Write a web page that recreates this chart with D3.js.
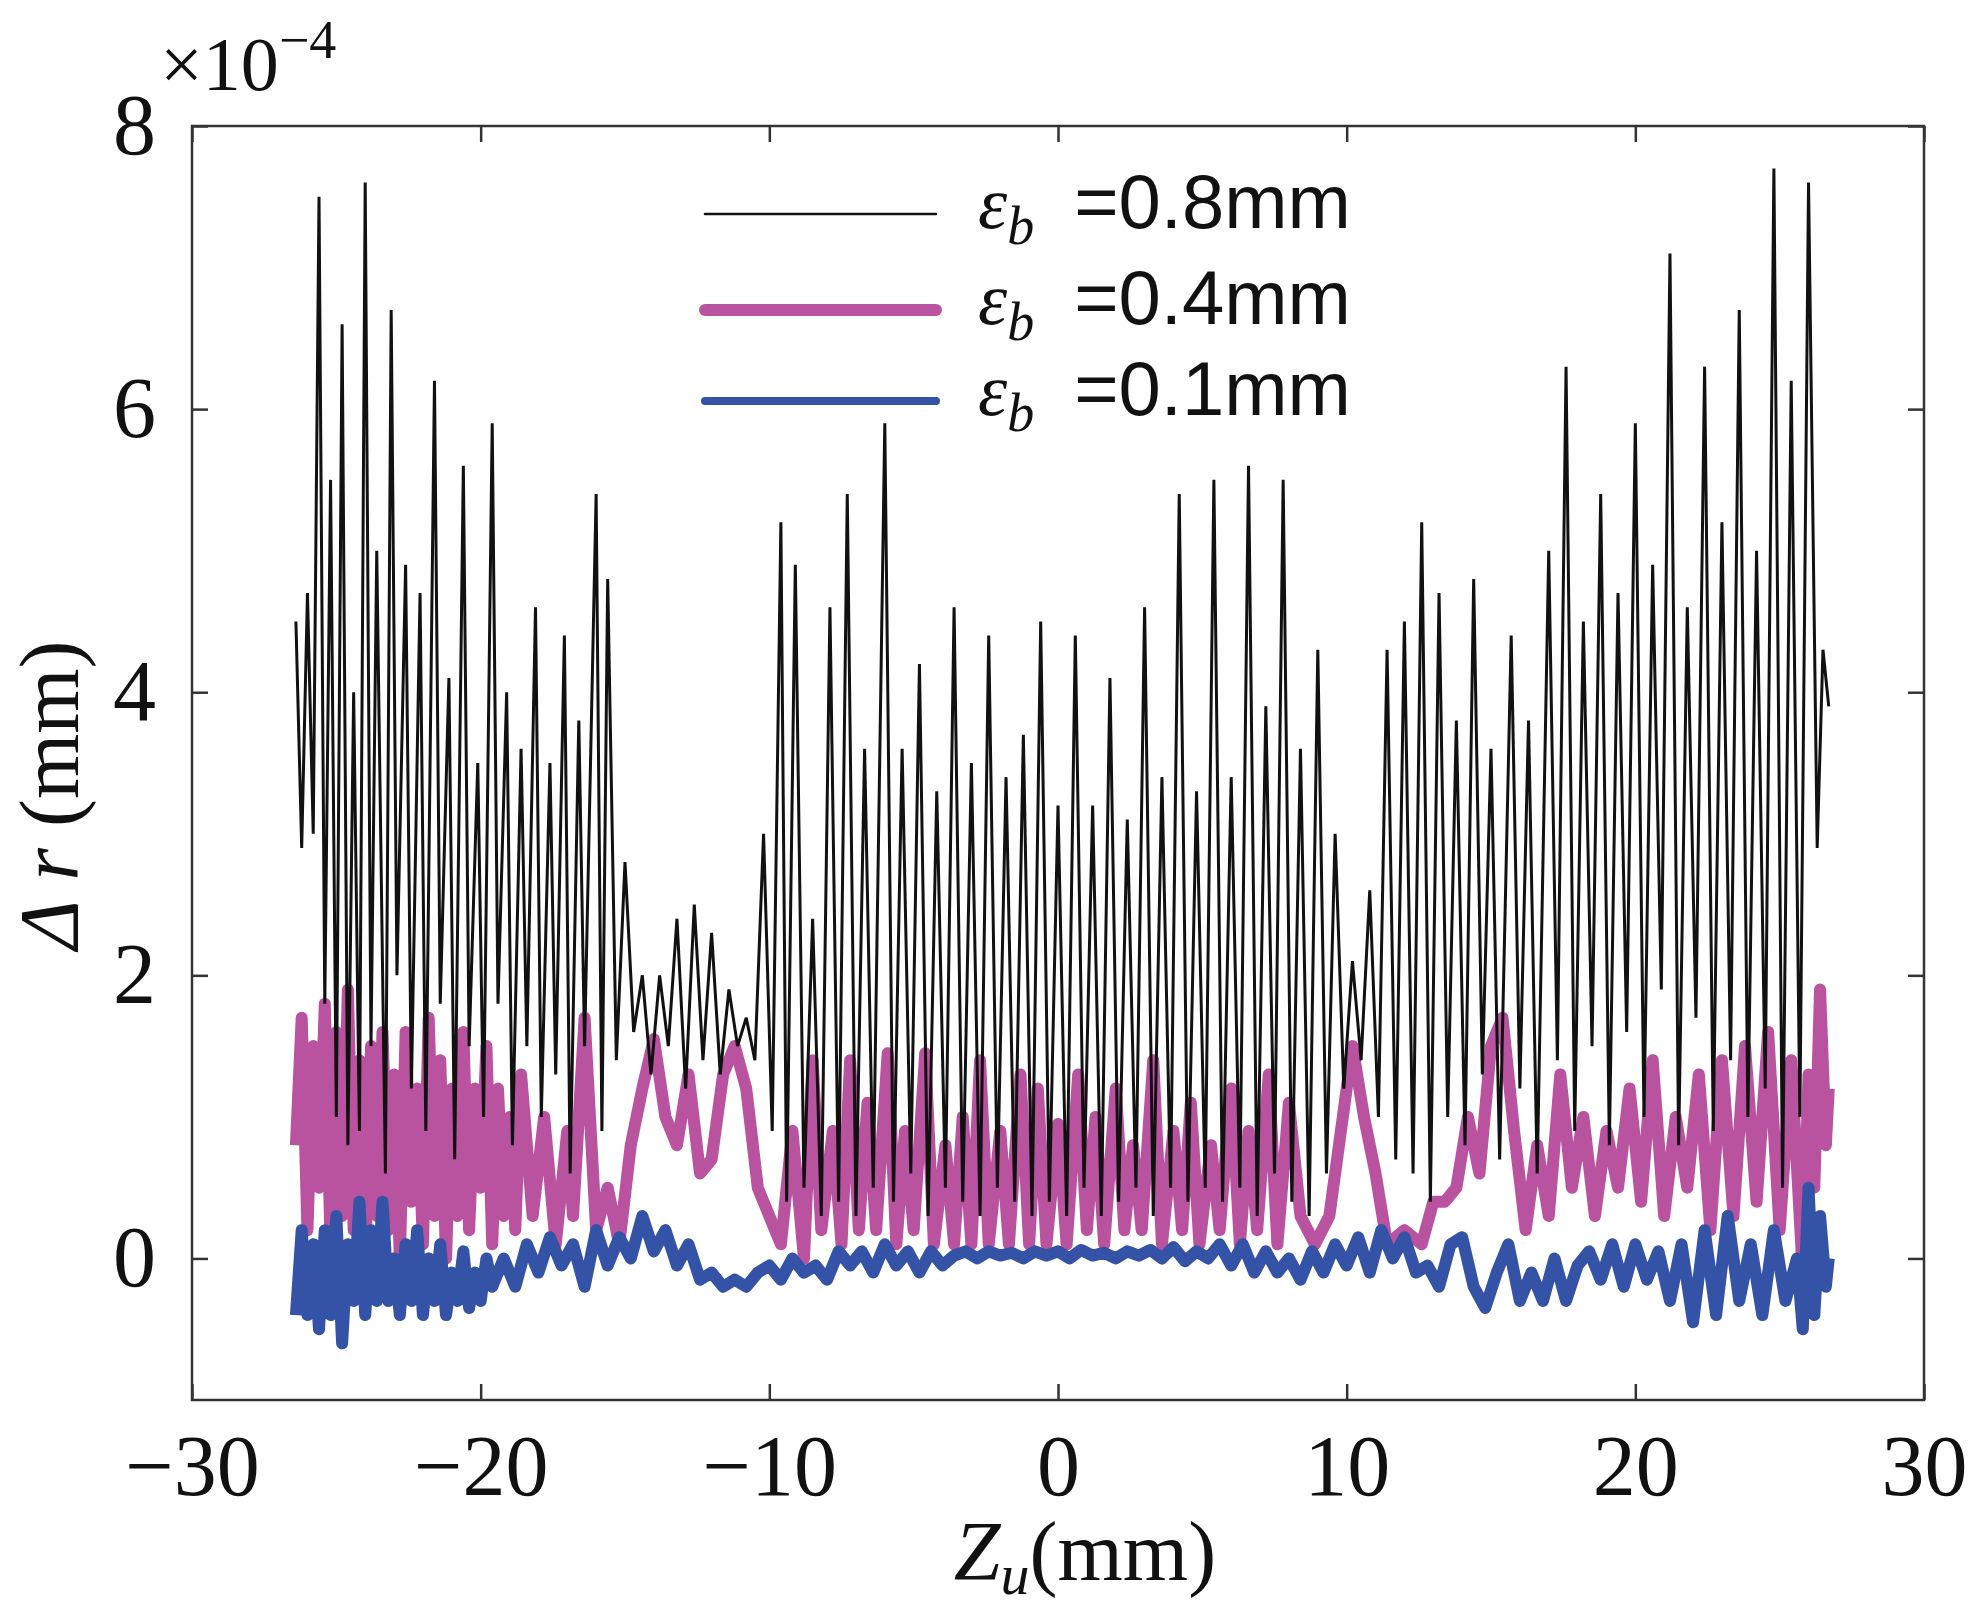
<!DOCTYPE html>
<html>
<head>
<meta charset="utf-8">
<script src="https://cdn.jsdelivr.net/npm/d3@7"></script>
<style>
  body { margin: 0; background: #fff; }
</style>
</head>
<body>
<div id="chart"></div>
<script>
// x ticks and y ticks (y in units of 1e-4 mm)
const xTicks = [-30, -20, -10, 0, 10, 20, 30];
const yTicks = [0, 2, 4, 6, 8];

// eps_b = 0.8mm  [Zu, dr]
const black = [
  [-26.4,4.5],[-26.2,2.9],[-26.0,4.7],[-25.8,3.0],[-25.6,7.5],[-25.4,1.8],[-25.2,5.5],[-25.0,1.0],[-24.8,6.6],[-24.6,0.8],
  [-24.4,4.0],[-24.2,0.9],[-24.0,7.6],[-23.8,1.5],[-23.6,5.0],[-23.3,0.6],[-23.1,6.7],[-22.9,2.0],[-22.6,4.9],[-22.4,1.2],
  [-22.1,4.7],[-21.9,0.9],[-21.6,6.2],[-21.4,1.8],[-21.1,4.1],[-20.9,0.7],[-20.6,5.6],[-20.4,1.5],[-20.1,3.5],[-19.9,1.0],
  [-19.6,5.9],[-19.4,1.8],[-19.1,4.0],[-18.9,0.8],[-18.6,3.6],[-18.4,1.5],[-18.1,4.6],[-17.9,1.0],[-17.6,3.5],[-17.4,1.3],
  [-17.1,4.4],[-16.9,0.6],[-16.6,3.8],[-16.4,1.5],[-16.0,5.4],[-15.8,0.9],[-15.6,4.8],[-15.3,1.4],[-15.0,2.8],[-14.7,1.6],
  [-14.4,2.0],[-14.1,1.3],[-13.8,2.0],[-13.5,1.5],[-13.2,2.4],[-12.9,1.2],[-12.6,2.5],[-12.3,1.4],[-12.0,2.3],[-11.7,1.3],
  [-11.4,1.9],[-11.1,1.5],[-10.8,1.7],[-10.5,1.4],[-10.2,3.0],[-9.9,0.9],[-9.6,5.2],[-9.4,0.4],[-9.1,4.9],[-8.8,0.5],
  [-8.5,2.4],[-8.2,0.3],[-7.9,4.6],[-7.6,0.4],[-7.3,5.4],[-7.0,0.3],[-6.7,3.6],[-6.4,0.5],[-6.0,5.9],[-5.7,0.4],
  [-5.4,3.6],[-5.1,0.6],[-4.8,4.2],[-4.5,0.3],[-4.2,3.3],[-3.9,0.5],[-3.6,4.6],[-3.3,0.4],[-3.0,3.5],[-2.7,0.3],
  [-2.4,4.4],[-2.1,0.5],[-1.8,3.4],[-1.5,0.4],[-1.2,3.7],[-0.9,0.3],[-0.6,4.5],[-0.3,0.4],[0.0,3.2],[0.3,0.3],
  [0.6,4.4],[0.9,0.5],[1.2,3.2],[1.5,0.3],[1.8,4.1],[2.1,0.4],[2.4,3.1],[2.7,0.5],[3.0,4.6],[3.3,0.3],
  [3.6,3.4],[3.9,0.5],[4.2,5.4],[4.5,0.4],[4.8,3.3],[5.1,0.5],[5.4,5.5],[5.7,0.4],[6.0,3.4],[6.3,0.5],
  [6.6,5.6],[6.9,0.3],[7.2,3.9],[7.5,0.6],[7.8,5.5],[8.1,0.4],[8.4,3.6],[8.7,0.3],[9.0,4.3],[9.3,0.6],
  [9.6,3.0],[9.9,1.2],[10.2,2.1],[10.5,1.4],[10.8,2.6],[11.1,1.0],[11.4,4.3],[11.7,0.7],[12.0,4.5],[12.3,0.6],
  [12.6,5.2],[12.9,0.4],[13.2,4.7],[13.5,1.0],[13.8,3.8],[14.1,0.8],[14.4,4.8],[14.7,1.3],[15.0,3.6],[15.3,0.7],
  [15.7,4.4],[16.0,1.2],[16.3,3.8],[16.6,0.6],[17.0,5.0],[17.3,1.4],[17.6,6.3],[17.9,0.9],[18.2,4.5],[18.5,1.5],
  [18.8,5.4],[19.1,0.8],[19.4,4.7],[19.7,1.6],[20.0,5.9],[20.3,1.0],[20.6,4.9],[20.9,1.9],[21.2,7.1],[21.5,0.8],
  [21.8,4.6],[22.1,1.7],[22.4,6.3],[22.7,0.9],[23.0,5.2],[23.3,1.4],[23.6,6.7],[23.9,1.0],[24.2,5.0],[24.5,1.2],
  [24.8,7.7],[25.1,0.5],[25.4,6.2],[25.7,1.0],[26.0,7.6],[26.3,2.9],[26.5,4.3],[26.7,3.9]
];

// eps_b = 0.4mm
const pink = [
  [-26.4,0.8],[-26.2,1.7],[-26.0,0.2],[-25.8,1.5],[-25.6,0.5],[-25.4,1.8],[-25.2,0.1],[-25.0,1.6],[-24.8,0.3],[-24.6,1.9],
  [-24.4,0.2],[-24.2,1.4],[-24.0,0.0],[-23.8,1.5],[-23.6,0.3],[-23.4,1.6],[-23.2,0.2],[-23.0,1.3],[-22.8,0.0],[-22.6,1.6],
  [-22.4,0.4],[-22.2,1.2],[-22.0,0.1],[-21.8,1.7],[-21.6,0.3],[-21.4,1.4],[-21.2,0.0],[-21.0,1.2],[-20.8,0.3],[-20.6,1.6],
  [-20.4,0.2],[-20.2,1.2],[-20.0,0.5],[-19.8,1.5],[-19.6,0.1],[-19.4,1.2],[-19.2,0.3],[-19.0,1.0],[-18.8,0.2],[-18.6,1.3],
  [-18.2,0.3],[-17.8,1.0],[-17.4,0.1],[-17.0,0.9],[-16.8,0.3],[-16.4,1.7],[-16.0,0.2],[-15.6,0.5],[-15.2,0.1],[-14.8,0.8],
  [-14.4,1.2],[-14.0,1.55],[-13.6,1.0],[-13.2,0.8],[-12.8,1.3],[-12.4,0.6],[-12.0,0.7],[-11.6,1.3],[-11.2,1.5],[-10.8,1.2],
  [-10.4,0.5],[-10.0,0.3],[-9.6,0.1],[-9.2,0.9],[-8.8,0.0],[-8.5,1.4],[-8.2,0.2],[-7.8,0.9],[-7.5,0.1],[-7.2,1.4],
  [-6.9,0.2],[-6.6,1.1],[-6.3,0.2],[-5.9,1.45],[-5.6,0.1],[-5.3,0.9],[-5.0,0.2],[-4.6,1.45],[-4.3,0.1],[-3.9,0.8],
  [-3.6,0.1],[-3.3,1.0],[-3.0,0.1],[-2.7,1.4],[-2.4,0.1],[-2.0,0.9],[-1.7,0.1],[-1.3,1.3],[-1.0,0.1],[-0.7,1.2],
  [-0.4,0.1],[0.0,0.95],[0.3,0.1],[0.7,1.3],[1.0,0.2],[1.3,1.0],[1.6,0.1],[2.0,1.2],[2.3,0.2],[2.6,0.8],
  [2.9,0.2],[3.3,1.4],[3.6,0.1],[4.0,0.9],[4.3,0.2],[4.6,1.1],[4.9,0.1],[5.3,0.8],[5.6,0.2],[6.0,1.2],
  [6.3,0.1],[6.6,0.9],[6.9,0.2],[7.3,1.3],[7.6,0.1],[8.0,1.1],[8.4,0.3],[8.9,0.1],[9.4,0.3],[9.8,0.9],
  [10.2,1.5],[10.6,1.0],[11.0,0.6],[11.4,0.1],[12.0,0.2],[12.6,0.1],[13.0,0.4],[13.4,0.4],[13.8,0.5],[14.2,1.0],
  [14.6,0.6],[15.0,1.5],[15.4,1.7],[15.8,0.9],[16.2,0.2],[16.6,0.8],[17.0,0.3],[17.4,1.3],[17.8,0.5],[18.2,1.0],
  [18.6,0.3],[19.0,0.9],[19.4,0.5],[19.8,1.2],[20.2,0.4],[20.6,1.4],[21.0,0.3],[21.4,1.0],[21.8,0.5],[22.2,1.3],
  [22.6,0.2],[23.0,1.4],[23.4,0.3],[23.8,1.5],[24.2,0.4],[24.6,1.6],[25.0,0.2],[25.4,1.4],[25.8,-0.1],[26.0,1.3],
  [26.2,0.5],[26.4,1.9],[26.6,0.8],[26.7,1.2]
];

// eps_b = 0.1mm
const blue = [
  [-26.4,-0.4],[-26.2,0.2],[-26.0,-0.4],[-25.8,0.1],[-25.6,-0.5],[-25.4,0.2],[-25.2,-0.4],[-25.0,0.3],[-24.8,-0.6],[-24.6,0.1],
  [-24.4,-0.3],[-24.2,0.4],[-24.0,-0.4],[-23.8,0.2],[-23.6,-0.3],[-23.4,0.4],[-23.2,-0.3],[-23.0,0.0],[-22.8,-0.4],[-22.6,0.1],
  [-22.4,-0.3],[-22.2,0.2],[-22.0,-0.4],[-21.8,0.0],[-21.6,-0.3],[-21.4,0.1],[-21.2,-0.4],[-21.0,-0.1],[-20.8,-0.3],[-20.6,0.05],
  [-20.4,-0.35],[-20.2,-0.1],[-20.0,-0.3],[-19.8,0.0],[-19.6,-0.2],[-19.2,0.0],[-18.8,-0.2],[-18.4,0.1],[-18.0,-0.1],[-17.6,0.15],
  [-17.2,-0.05],[-16.8,0.1],[-16.4,-0.2],[-16.0,0.2],[-15.6,-0.05],[-15.2,0.15],[-14.8,0.0],[-14.4,0.3],[-14.0,0.05],[-13.6,0.2],
  [-13.2,-0.05],[-12.8,0.1],[-12.4,-0.15],[-12.0,-0.1],[-11.6,-0.2],[-11.2,-0.15],[-10.8,-0.2],[-10.4,-0.1],[-10.0,-0.05],[-9.6,-0.15],
  [-9.2,0.0],[-8.8,-0.1],[-8.4,-0.05],[-8.0,-0.15],[-7.6,0.05],[-7.2,-0.05],[-6.8,0.05],[-6.4,-0.1],[-6.0,0.1],[-5.6,-0.05],
  [-5.2,0.05],[-4.8,-0.1],[-4.4,0.05],[-4.0,-0.05],[-3.6,0.02],[-3.2,0.05],[-2.8,0.0],[-2.4,0.05],[-2.0,0.02],[-1.6,0.04],
  [-1.2,0.0],[-0.8,0.05],[-0.4,0.02],[0.0,0.05],[0.4,0.0],[0.8,0.06],[1.2,0.02],[1.6,0.04],[2.0,0.0],[2.4,0.05],
  [2.8,0.02],[3.2,0.06],[3.6,0.0],[4.0,0.08],[4.4,-0.02],[4.8,0.05],[5.2,0.0],[5.6,0.1],[6.0,-0.05],[6.4,0.1],
  [6.8,-0.1],[7.2,0.05],[7.6,-0.1],[8.0,0.0],[8.4,-0.15],[8.8,0.05],[9.2,-0.1],[9.6,0.1],[10.0,-0.05],[10.4,0.15],
  [10.8,-0.1],[11.2,0.2],[11.6,0.0],[12.0,0.15],[12.4,-0.1],[12.8,-0.05],[13.2,-0.2],[13.6,0.1],[14.0,0.15],[14.4,-0.2],
  [14.8,-0.35],[15.2,-0.1],[15.6,0.1],[16.0,-0.3],[16.4,-0.1],[16.8,-0.3],[17.2,0.0],[17.6,-0.3],[18.0,-0.05],[18.4,0.05],
  [18.8,-0.15],[19.2,0.1],[19.6,-0.2],[20.0,0.1],[20.4,-0.15],[20.8,0.05],[21.2,-0.3],[21.6,0.1],[22.0,-0.45],[22.4,0.2],
  [22.8,-0.4],[23.2,0.3],[23.6,-0.3],[24.0,0.1],[24.4,-0.4],[24.8,0.2],[25.2,-0.3],[25.6,0.0],[25.8,-0.5],[26.0,0.5],
  [26.2,-0.4],[26.4,0.3],[26.6,-0.2],[26.7,0.0]
];

const legendLabels = ['=0.8mm', '=0.4mm', '=0.1mm'];

const W = 1972, H = 1618;
const margin = { top: 126, right: 48, bottom: 218, left: 192 };
const width = W - margin.left - margin.right;
const height = H - margin.top - margin.bottom;

const svg = d3.select('#chart').append('svg')
  .attr('width', W).attr('height', H);
const g = svg.append('g').attr('transform', `translate(${margin.left},${margin.top})`);

const x = d3.scaleLinear().domain([-30, 30]).range([0, width]);
const y = d3.scaleLinear().domain([-1, 8]).range([height, 0]);

const serif = '"Liberation Serif", "Times New Roman", Times, serif';
const sans = '"Liberation Sans", Arial, Helvetica, sans-serif';

g.append('defs').append('clipPath').attr('id', 'clip')
  .append('rect').attr('width', width).attr('height', height);

const line = d3.line().x(d => x(d[0])).y(d => y(d[1]));
const plot = g.append('g').attr('clip-path', 'url(#clip)');

plot.append('path').datum(pink).attr('d', line)
  .attr('fill', 'none').attr('stroke', '#b9529f').attr('stroke-width', 12).attr('stroke-linejoin', 'round');
plot.append('path').datum(black).attr('d', line)
  .attr('fill', 'none').attr('stroke', '#111').attr('stroke-width', 3);
plot.append('path').datum(blue).attr('d', line)
  .attr('fill', 'none').attr('stroke', '#3452a6').attr('stroke-width', 12).attr('stroke-linejoin', 'round');

// axes (ticks inward, mirrored on top/right)
const tl = 16;
const styleAxis = sel => {
  sel.select('.domain').remove();
  sel.selectAll('line').attr('stroke', '#333').attr('stroke-width', 2.5);
  sel.selectAll('text').attr('font-family', serif).attr('font-size', 86).attr('fill', '#111');
};
g.append('g').attr('transform', `translate(0,${height})`)
  .call(d3.axisBottom(x).tickValues(xTicks).tickSize(-tl).tickPadding(34).tickFormat(d => d < 0 ? '\u2212' + (-d) : d))
  .call(styleAxis);
g.append('g')
  .call(d3.axisTop(x).tickValues(xTicks).tickSize(-tl).tickFormat(''))
  .call(styleAxis);
g.append('g')
  .call(d3.axisLeft(y).tickValues(yTicks).tickSize(-tl).tickPadding(36))
  .call(styleAxis);
g.append('g').attr('transform', `translate(${width},0)`)
  .call(d3.axisRight(y).tickValues(yTicks).tickSize(-tl).tickFormat(''))
  .call(styleAxis);

g.append('rect').attr('width', width).attr('height', height)
  .attr('fill', 'none').attr('stroke', '#333').attr('stroke-width', 2.5);

// exponent
const ex = svg.append('text').attr('x', 160).attr('y', 90)
  .attr('font-family', serif).attr('font-size', 76).attr('fill', '#111');
ex.append('tspan').text('\u00d710');
ex.append('tspan').attr('dy', -32).attr('font-size', 54).text('\u22124');

// axis labels
const xl = svg.append('text').attr('x', 1085).attr('y', 1580).attr('text-anchor', 'middle')
  .attr('font-family', serif).attr('font-size', 84).attr('fill', '#111');
xl.append('tspan').attr('font-style', 'italic').text('Z');
xl.append('tspan').attr('font-style', 'italic').attr('font-size', 58).attr('dy', 14).text('u');
xl.append('tspan').attr('dy', -14).text('(mm)');

const yl = svg.append('text').attr('transform', 'translate(78,795) rotate(-90)').attr('text-anchor', 'middle')
  .attr('font-family', serif).attr('font-size', 84).attr('fill', '#111');
yl.append('tspan').attr('font-style', 'italic').text('\u0394 r');
yl.append('tspan').text(' (mm)');

// legend
const legend = [
  { color: '#111', w: 2.5, label: legendLabels[0] },
  { color: '#b9529f', w: 12, label: legendLabels[1] },
  { color: '#3452a6', w: 8, label: legendLabels[2] }
];
const ly = [214, 310, 401];
legend.forEach((d, i) => {
  svg.append('line').attr('x1', 705).attr('x2', 936).attr('y1', ly[i]).attr('y2', ly[i])
    .attr('stroke', d.color).attr('stroke-width', d.w).attr('stroke-linecap', 'round');
  const t = svg.append('text').attr('x', 978).attr('y', ly[i] + 14)
    .attr('font-size', 74).attr('fill', '#111');
  t.append('tspan').attr('font-family', serif).attr('font-style', 'italic').text('\u03b5');
  t.append('tspan').attr('font-family', serif).attr('font-style', 'italic').attr('font-size', 54).attr('dy', 16).text('b');
  t.append('tspan').attr('font-family', sans).attr('dy', -16).attr('dx', 40).attr('font-size', 76).text(d.label);
});
</script>
</body>
</html>
